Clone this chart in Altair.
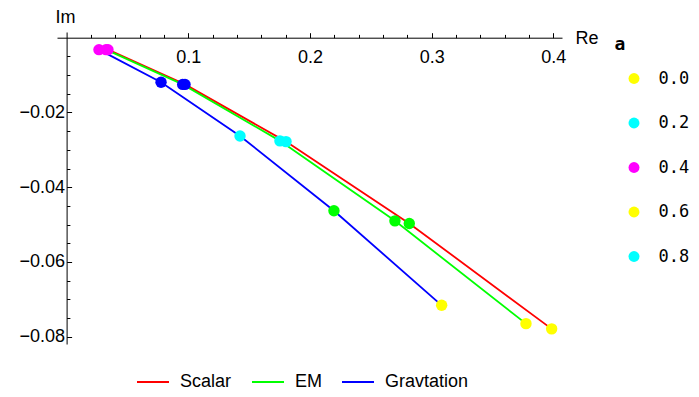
import altair as alt
import pandas as pd

series = ["Scalar", "EM", "Gravtation"]
a_vals = ["0.0", "0.2", "0.4", "0.6", "0.8"]

scalar_re = [0.3986, 0.2816, 0.1803, 0.0973, 0.0340]
scalar_im = [-0.0779, -0.0497, -0.0278, -0.0125, -0.0032]
em_re = [0.3775, 0.2698, 0.1753, 0.0954, 0.0324]
em_im = [-0.0765, -0.0490, -0.0276, -0.0125, -0.0032]
grav_re = [0.3082, 0.2197, 0.1425, 0.0776, 0.0266]
grav_im = [-0.0716, -0.0463, -0.0263, -0.0119, -0.0032]

x_major = [0.1, 0.2, 0.3, 0.4]
x_minor = [0.02, 0.04, 0.06, 0.08, 0.12, 0.14, 0.16, 0.18,
           0.22, 0.24, 0.26, 0.28, 0.32, 0.34, 0.36, 0.38]
y_major = [-0.08, -0.06, -0.04, -0.02]
y_minor = [-0.005, -0.01, -0.015, -0.025, -0.03, -0.035,
           -0.045, -0.05, -0.055, -0.065, -0.07, -0.075]

rows = []
for name, res, ims in [("Scalar", scalar_re, scalar_im),
                       ("EM", em_re, em_im),
                       ("Gravtation", grav_re, grav_im)]:
    for i, (r, m) in enumerate(zip(res, ims)):
        rows.append({"series": name, "a": a_vals[i], "re": r, "im": m, "idx": i})
df = pd.DataFrame(rows)

W, H = 505, 312
xs = alt.Scale(domain=[-0.00789, 0.4071], nice=False, zero=False)
ys = alt.Scale(domain=[-0.08195, 0.001525], nice=False, zero=False)

FONT = "Liberation Sans"
MONO = "DejaVu Sans Mono"

lines = alt.Chart(df).mark_line(strokeWidth=1.8).encode(
    x=alt.X("re:Q", scale=xs, axis=alt.Axis(
        orient="top", offset=-5.7, values=x_major, format=".1f", tickSize=5,
        labelPadding=-16, labelBaseline="top", labelAlign="center",
        labelFlush=False, labelOverlap=False, grid=False,
        title="Re", titleX=518, titleY=1, titleAlign="left",
        titleBaseline="middle", titleAngle=0)),
    y=alt.Y("im:Q", scale=ys, axis=alt.Axis(
        orient="left", offset=-9.6, values=y_major, format=".2f",
        ticks=False, tickSize=0, labelPadding=2, labelOverlap=False,
        labelFlush=False, grid=False,
        title="Im", titleAngle=0, titleX=-11.6, titleY=-23.5,
        titleAlign="left", titleBaseline="top")),
    color=alt.Color("series:N",
                    scale=alt.Scale(domain=series, range=["#ff0000", "#00ff00", "#0000ff"]),
                    legend=alt.Legend(orient="none", legendX=79, legendY=333,
                                      direction="horizontal", title=None,
                                      symbolType="stroke", symbolSize=1024,
                                      symbolStrokeWidth=2, labelFontSize=18,
                                      labelFont=FONT, labelOffset=10,
                                      columnPadding=16, padding=0)),
    detail="series:N",
    order="idx:Q",
)

pts = alt.Chart(df).mark_circle(size=130, opacity=1).encode(
    x=alt.X("re:Q", scale=xs, axis=alt.Axis(
        orient="top", offset=-5.7, values=x_minor, tickSize=3.3,
        labels=False, domain=False, grid=False, title=None)),
    y=alt.Y("im:Q", scale=ys, axis=alt.Axis(
        orient="right", offset=-(W - 9.6), values=y_major, tickSize=5,
        labels=False, domain=False, grid=False, title=None)),
    color=alt.Color("a:N",
                    scale=alt.Scale(domain=a_vals,
                                    range=["#ffff00", "#00ff00", "#00ffff", "#0000ff", "#ff00ff"]),
                    legend=None),
)

leg = alt.Chart(df).transform_filter("datum.re > 1").mark_circle(size=120, opacity=1).encode(
    x=alt.X("re:Q", scale=xs, axis=None),
    y=alt.Y("im:Q", scale=ys, axis=alt.Axis(
        orient="right", offset=-(W - 9.6), values=y_minor, tickSize=3.3,
        labels=False, domain=False, grid=False, title=None)),
    color=alt.Color("a:N",
                    scale=alt.Scale(domain=a_vals,
                                    range=["#ffff00", "#00ffff", "#ff00ff", "#ffff00", "#00ffff"]),
                    legend=alt.Legend(orient="none", legendX=557.5, legendY=4,
                                      title="a", titleFont=MONO, titleFontWeight="bold",
                                      titleFontSize=18, titlePadding=16,
                                      labelFont=MONO, labelFontSize=17,
                                      symbolOffset=11, labelOffset=16, rowPadding=26.5,
                                      padding=0, symbolSize=120, symbolType="circle")),
)

chart = alt.layer(lines, pts, leg).resolve_scale(
    color="independent"
).resolve_axis(
    x="independent", y="independent"
).properties(
    width=W, height=H,
    autosize=alt.AutoSizeParams(type="none"),
    padding={"left": 49, "top": 24, "right": 129, "bottom": 52},
).configure_view(stroke=None).configure_axis(
    labelFont=FONT, titleFont=FONT, labelFontSize=18, titleFontSize=18,
    titleFontWeight="normal", labelColor="black", titleColor="black",
    domainColor="black", tickColor="black", domainWidth=1, tickWidth=1,
)

chart.save("out.html", embed_options={"renderer": "svg", "actions": False})
